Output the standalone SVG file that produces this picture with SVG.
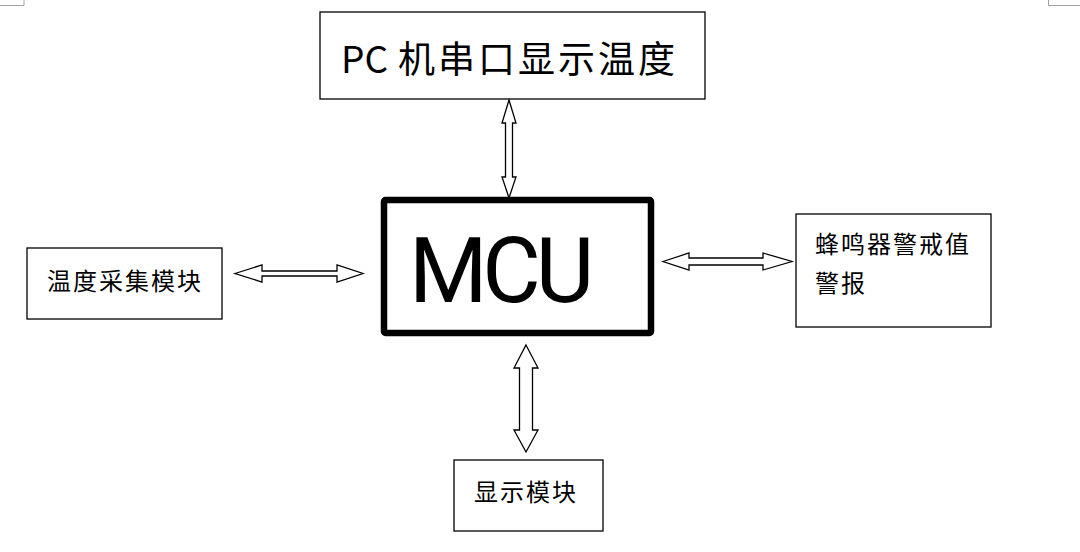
<svg xmlns="http://www.w3.org/2000/svg" width="1080" height="552" viewBox="0 0 1080 552">
<style>
.box{fill:#fff;stroke:#000;stroke-width:1.3}
.arr{fill:#fff;stroke:#000;stroke-width:1.3;stroke-linejoin:miter}
.t{font-family:"Noto Sans CJK SC","Noto Sans",sans-serif;fill:#000}
.s{font-size:24px;letter-spacing:2px}
.corner{fill:none;stroke:#a0a0a0;stroke-width:1}
</style>
<rect width="1080" height="552" fill="#fff"/>
<path class="corner" d="M24,0V5.5H0M1048.5,0V5.5H1080"/>
<g id="node-pc">
<rect class="box" x="320" y="12" width="385" height="87"/>
<text class="t" x="341" y="73" font-size="37"><tspan>PC </tspan><tspan x="398" letter-spacing="3">机串口显示温度</tspan></text>
</g>
<g id="node-mcu">
<rect x="384" y="200" width="267" height="133" fill="#fff" stroke="#000" stroke-width="6.5" rx="1.5"/>
<text x="409" y="302" font-family="Roboto,sans-serif" font-size="90" textLength="185">MCU</text>
</g>
<g id="node-temp">
<rect class="box" x="27" y="248" width="195" height="71"/>
<text class="t s" x="47" y="290">温度采集模块</text>
</g>
<g id="node-buzzer">
<rect class="box" x="796" y="214" width="195" height="113"/>
<text class="t s" x="815" y="253">蜂鸣器警戒值</text>
<text class="t s" x="815" y="292">警报</text>
</g>
<g id="node-display">
<rect class="box" x="454" y="460" width="149" height="71"/>
<text class="t s" x="474" y="501">显示模块</text>
</g>
<g id="connectors">
<polygon class="arr" points="509,100 516,123 512.5,123 512.5,177 516,177 509,198 502,177 505.5,177 505.5,123 502,123"/>
<polygon class="arr" points="235,273.5 262,265 262,271 337,271 337,265 363,273.5 337,282 337,276 262,276 262,282"/>
<polygon class="arr" points="663,261.5 689,253 689,258 763,258 763,253 792,261.5 763,270 763,265 689,265 689,270"/>
<polygon class="arr" points="526,345 538,368 532.5,368 532.5,430 538,430 526,452 514,430 519.5,430 519.5,368 514,368"/>
</g>
</svg>
